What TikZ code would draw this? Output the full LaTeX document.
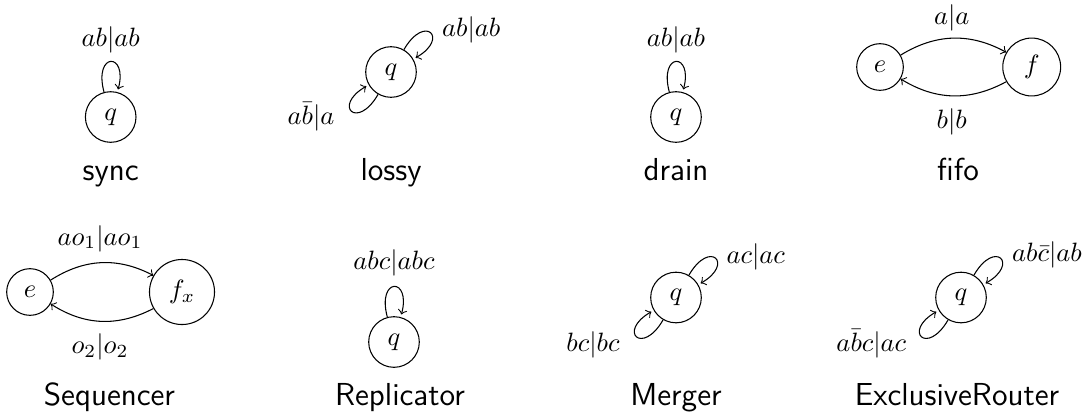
\documentclass[tikz,border=0pt]{standalone}
\begin{document}
\begin{tikzpicture}[x=0.37736pt,y=0.37736pt,
  st/.style={circle,draw,inner sep=4pt,line width=0.4pt},
  lbl/.style={inner sep=0pt},
  caption/.style={font=\large\sffamily,inner sep=0pt,anchor=base},
  tr/.style={->,line width=0.4pt},
  loop ne/.style={out=60,in=30,loop},
  loop sw/.style={out=240,in=210,loop}]
\useasboundingbox (0,0) rectangle (1090,419);

% sync
\node[st] (sq) at (110.7,302) {$q$};
\node[lbl,anchor=base] (sl) at (110.7,372.5) {$ab|ab$};
\node[caption] (sc) at (110.7,239) {sync};
\path (sq) edge[tr,loop above] (sq);

% lossy
\node[st] (lq) at (391,347) {$q$};
\node[lbl,anchor=base west] (ll1) at (441.7,382.4) {$ab|ab$};
\node[lbl,anchor=base east] (ll2) at (335,294.1) {$a\bar{b}|a$};
\node[caption] (lc) at (391,239) {lossy};
\path (lq) edge[tr,loop ne] (lq)
      (lq) edge[tr,loop sw] (lq);

% drain
\node[st] (dq) at (676,302) {$q$};
\node[lbl,anchor=base] (dl) at (676,372.5) {$ab|ab$};
\node[caption] (dc) at (676,239) {drain};
\path (dq) edge[tr,loop above] (dq);

% fifo
\node[st] (fe) at (880,352) {$e$};
\node[st] (ff) at (1031.7,352) {$f$};
\node[lbl,anchor=base] (fl1) at (951.7,395) {$a|a$};
\node[lbl,anchor=base] (fl2) at (951.7,290.4) {$b|b$};
\node[caption] (fc) at (958,239) {fifo};
\path (fe) edge[tr,bend left] (ff)
      (ff) edge[tr,bend left] (fe);

% Sequencer
\node[st] (qe) at (30,127) {$e$};
\node[st] (qf) at (182,127) {$f_x$};
\node[lbl,anchor=base] (ql1) at (100,174) {$ao_1|ao_1$};
\node[lbl,anchor=base] (ql2) at (100,65.7) {$o_2|o_2$};
\node[caption] (qc) at (109.5,14) {Sequencer};
\path (qe) edge[tr,bend left] (qf)
      (qf) edge[tr,bend left] (qe);

% Replicator
\node[st] (rq) at (394,77) {$q$};
\node[lbl,anchor=base] (rl) at (394,149.4) {$abc|abc$};
\node[caption] (rc) at (400,14) {Replicator};
\path (rq) edge[tr,loop above] (rq);

% Merger
\node[st] (mq) at (676,121.5) {$q$};
\node[lbl,anchor=base west] (ml1) at (726,155.9) {$ac|ac$};
\node[lbl,anchor=base east] (ml2) at (620,67.4) {$bc|bc$};
\node[caption] (mc) at (676,14) {Merger};
\path (mq) edge[tr,loop ne] (mq)
      (mq) edge[tr,loop sw] (mq);

% ExclusiveRouter
\node[st] (eq) at (961,121.5) {$q$};
\node[lbl,anchor=base west] (el1) at (1011.7,157.4) {$ab\bar{c}|ab$};
\node[lbl,anchor=base east] (el2) at (906.7,67.4) {$a\bar{b}c|ac$};
\node[caption] (ec) at (957,14) {ExclusiveRouter};
\path (eq) edge[tr,loop ne] (eq)
      (eq) edge[tr,loop sw] (eq);
\end{tikzpicture}
\end{document}
